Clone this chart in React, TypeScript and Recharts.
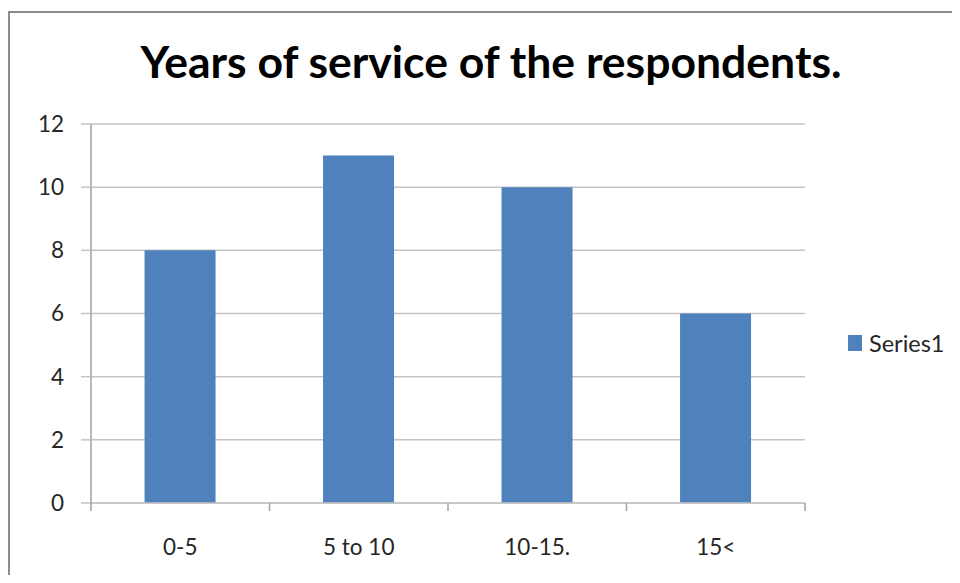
import React from 'react';
import { BarChart, Bar, XAxis, YAxis, CartesianGrid, Legend } from 'recharts';

const CATEGORIES = ['0-5', '5 to 10', '10-15.', '15<'];
const SERIES1 = [8, 11, 10, 6];
const Y_TICKS = [0, 2, 4, 6, 8, 10, 12];

const data = CATEGORIES.map((name, i) => ({ name, Series1: SERIES1[i] }));

const FONT = 'Lato, "Open Sans", sans-serif';
const GRID = '#c4c4c4';
const AXIS = '#a0a0a0';
const TEXT = '#262626';
const BAR = '#4f81bd';

const W = 960;
const H = 583;
const MARGIN = { top: 124, right: 155, bottom: 0, left: 0 };
const Y_W = 91;
const X_H = 80;

// category ticks in Excel sit on the band edges, labels in the middle
function XTick(props: any) {
  const { x, y, payload, index, visibleTicksCount } = props;
  const band = (W - MARGIN.right - MARGIN.left - Y_W) / CATEGORIES.length;
  const top = y - 8;
  return (
    <g>
      <line x1={x - band / 2} x2={x - band / 2} y1={top} y2={top + 8} stroke={AXIS} strokeWidth={1.5} />
      {index === visibleTicksCount - 1 && (
        <line x1={x + band / 2} x2={x + band / 2} y1={top} y2={top + 8} stroke={AXIS} strokeWidth={1.5} />
      )}
      <text x={x} y={top + 52} textAnchor="middle" fill={TEXT} fontFamily={FONT} fontSize={22.5}>
        {payload.value}
      </text>
    </g>
  );
}

function LegendBox(props: any) {
  const { payload } = props;
  return (
    <div>
      {(payload || []).map((p: any) => (
        <div key={p.value} style={{ display: 'flex', alignItems: 'center', fontFamily: FONT, fontSize: 23.5, color: TEXT }}>
          <span style={{ display: 'inline-block', width: 14, height: 16, background: p.color, marginRight: 7 }} />
          <span>{p.value}</span>
        </div>
      ))}
    </div>
  );
}

export default function App() {
  return (
    <div style={{ position: 'relative', width: 944, height: 567 }}>
      <div style={{ position: 'absolute', left: -8, top: -8, width: W, height: H, overflow: 'hidden', background: '#fff' }}>
        {/* chart frame */}
        <div style={{
          position: 'absolute', left: 8, top: 11, width: 980, height: 600,
          borderTop: '2px solid #8c8c8c', borderLeft: '2px solid #8c8c8c',
        }} />
        <div style={{
          position: 'absolute', left: 0, top: 35, width: 982, textAlign: 'center',
          fontFamily: FONT, fontWeight: 700, fontSize: 44.5, color: '#000', lineHeight: '52px',
        }}>
          Years of service of the respondents.
        </div>
        <div style={{ position: 'absolute', left: 0, top: 0 }}>
          <BarChart width={W} height={H} data={data} margin={MARGIN} barCategoryGap="30%">
            <CartesianGrid horizontal vertical={false} stroke={GRID} strokeWidth={1.5} />
            <XAxis
              dataKey="name"
              height={X_H}
              tickSize={8}
              tickMargin={0}
              tickLine={false}
              axisLine={{ stroke: GRID, strokeWidth: 1.5 }}
              tick={<XTick />}
              interval={0}
            />
            <YAxis
              width={Y_W}
              domain={[0, 12]}
              ticks={Y_TICKS}
              tickSize={10}
              tickMargin={17}
              tickLine={{ stroke: GRID, strokeWidth: 1.5 }}
              axisLine={{ stroke: AXIS, strokeWidth: 1.5 }}
              tick={{ fill: TEXT, fontFamily: FONT, fontSize: 22.5 }}
            />
            <Legend
              layout="horizontal"
              align="center"
              verticalAlign="middle"
              content={<LegendBox />}
              wrapperStyle={{ position: 'absolute', left: 848, top: 329, width: 112 }}
            />
            <Bar dataKey="Series1" fill={BAR} isAnimationActive={false} />
          </BarChart>
        </div>
      </div>
    </div>
  );
}
